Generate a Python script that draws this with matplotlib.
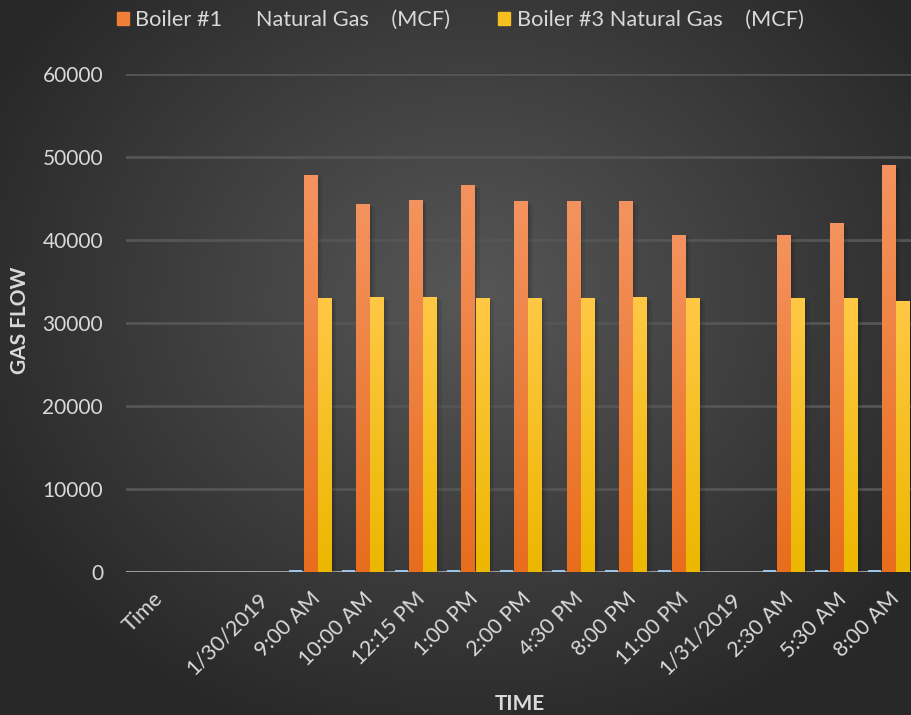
import numpy as np
import matplotlib
matplotlib.use("Agg")
import matplotlib.pyplot as plt
from matplotlib.colors import LinearSegmentedColormap
from matplotlib.patches import Patch
import matplotlib.patheffects as pe

plt.rcParams['font.family'] = ['Lato', 'DejaVu Sans']

categories = ["Time", "", "1/30/2019", "9:00 AM", "10:00 AM", "12:15 PM", "1:00 PM",
              "2:00 PM", "4:30 PM", "8:00 PM", "11:00 PM", "1/31/2019",
              "2:30 AM", "5:30 AM", "8:00 AM"]
boiler1 = [0, 0, 0, 47800, 44300, 44800, 46600, 44600, 44600, 44600, 40600, 0,
           40600, 42000, 49000]
boiler2 = [0, 0, 0, 200, 200, 200, 200, 200, 200, 200, 200, 0, 200, 200, 200]
boiler3 = [0, 0, 0, 33000, 33100, 33100, 33000, 33000, 32900, 33100, 33000, 0,
           33000, 33000, 32650]
labels = ["Boiler #1      Natural Gas    (MCF)", "Boiler #3 Natural Gas    (MCF)"]

txt = "#d9d9d9"
fig = plt.figure(figsize=(9.12, 7.15), dpi=100)

# background radial gradient
bg = fig.add_axes([0, 0, 1, 1])
yy, xx = np.mgrid[0:715, 0:912]
r = np.sqrt(((xx - 470) / 560.0) ** 2 + ((yy - 300) / 480.0) ** 2)
shade = np.clip(0.34 - 0.19 * r, 0.16, 0.34)
bg.imshow(np.dstack([shade, shade, shade]), extent=[0, 1, 0, 1], aspect='auto')
bg.axis('off')

ax = fig.add_axes([126 / 912, 143 / 715, 786 / 912, 498 / 715])
ax.patch.set_alpha(0)
x = np.arange(len(categories))
w = 0.25
off = 0.27

cm1 = LinearSegmentedColormap.from_list("o", ["#e86d1d", "#f4935f"])
cm3 = LinearSegmentedColormap.from_list("y", ["#ecb700", "#ffc845"])
grad = np.linspace(0, 1, 256).reshape(-1, 1)[::-1]
shadow = [pe.SimplePatchShadow(offset=(2, -1), alpha=0.12, shadow_rgbFace="black"),
          pe.SimplePatchShadow(offset=(4, -2), alpha=0.08, shadow_rgbFace="black")]

ax.bar(x - off, boiler2, w, color="#9dc3e6", zorder=3)
for vals, pos, cmap, c in [(boiler1, x, cm1, "#ef7e36"), (boiler3, x + off, cm3, "#f6bf20")]:
    bars = ax.bar(pos, vals, w, color=c, zorder=3, path_effects=shadow)
    for b in bars:
        h = b.get_height()
        if h <= 0:
            continue
        ax.imshow(grad, cmap=cmap, aspect='auto', zorder=4,
                  extent=[b.get_x(), b.get_x() + b.get_width(), 0, h])

ax.set_xlim(-0.5, -0.5 + 786 / 52.6)
ax.set_ylim(0, 60000)
ax.set_yticks(np.arange(0, 60001, 10000))
ax.yaxis.grid(True, color="#555555", linewidth=2, zorder=0)
ax.set_axisbelow(True)
for s in ax.spines.values():
    s.set_visible(False)
ax.axhline(0, color="#a6a6a6", linewidth=2, zorder=2)
ax.tick_params(length=0, colors=txt, labelsize=15)
ax.tick_params(axis='y', pad=16.5)
ax.set_xticks(x)
ax.set_xticklabels(categories, rotation=45, ha='right', va='top',
                   rotation_mode='anchor', fontsize=15.5)
ax.tick_params(axis='x', pad=12)

fig.text(20 / 912, 1 - 320 / 715, "GAS FLOW", rotation=90, color=txt,
         fontsize=15, fontweight='bold', ha='center', va='center')
fig.text(520 / 912, 1 - 704 / 715, "TIME", color=txt, fontsize=15,
         fontweight='bold', ha='center', va='center')

handles = [Patch(color="#ef7e36"), Patch(color="#f6bf20")]
fig.legend(handles, labels, loc='center', bbox_to_anchor=(460 / 912, 1 - 20 / 715),
           ncol=2, frameon=False, fontsize=15.7, labelcolor=txt,
           handlelength=0.55, handleheight=0.55, handletextpad=0.3, columnspacing=2.2)

fig.savefig("out.png", dpi=100)
